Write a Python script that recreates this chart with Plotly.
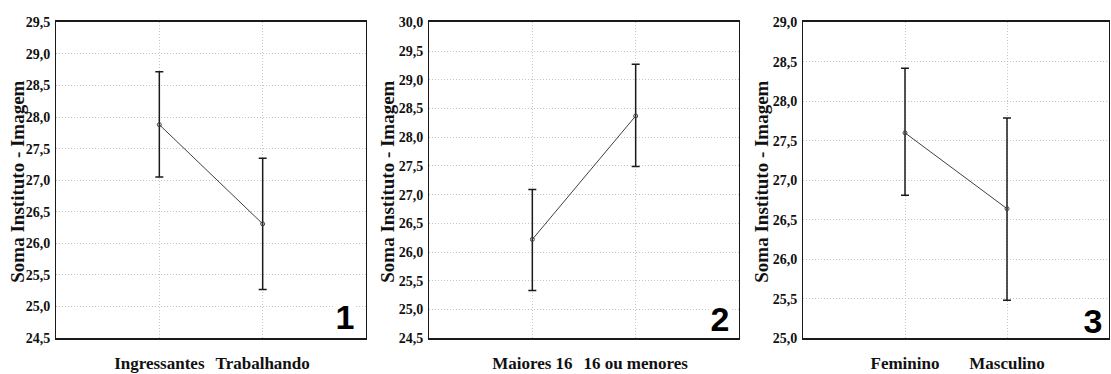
import plotly.graph_objects as go

# ---- data ----
cats1 = ["Ingressantes", "Trabalhando"]
mean1 = [27.88, 26.31]
upper1 = [28.72, 27.35]
lower1 = [27.05, 25.27]

cats2 = ["Maiores 16", "16 ou menores"]
mean2 = [26.22, 28.37]
upper2 = [27.09, 29.27]
lower2 = [25.33, 27.49]

cats3 = ["Feminino", "Masculino"]
mean3 = [27.60, 26.64]
upper3 = [28.42, 27.79]
lower3 = [26.81, 25.48]

yranges = [[24.5, 29.5], [24.5, 30.0], [25.0, 29.0]]
panel_labels = ["1", "2", "3"]
ytitle = "Soma Instituto - Imagem"

W, H = 1111, 374
# panel pixel boxes (left, right)
xboxes = [(56, 366), (429, 739), (803, 1109)]
top_px, bottom_px = 16, 345
ytitle_x = [18, 388, 762]
num_pos = [(345, 323), (720, 325), (1093, 327)]

fig = go.Figure()
series = [(cats1, mean1, upper1, lower1), (cats2, mean2, upper2, lower2), (cats3, mean3, upper3, lower3)]

serif = "Liberation Serif"
annotations = []
for i, (cats, m, up, lo) in enumerate(series):
    n = i + 1
    sfx = "" if n == 1 else str(n)
    xa, ya = "x" + sfx, "y" + sfx
    fig.add_trace(go.Scatter(
        x=cats, y=m, xaxis=xa, yaxis=ya, mode="lines+markers",
        line=dict(color="#404040", width=1),
        marker=dict(symbol="circle-open", size=4, color="#404040", line=dict(width=1)),
        error_y=dict(type="data", symmetric=False,
                     array=[u - v for u, v in zip(up, m)],
                     arrayminus=[v - l for v, l in zip(m, lo)],
                     color="#1a1a1a", thickness=1.5, width=4),
        showlegend=False, hoverinfo="skip"))
    l, r = xboxes[i]
    common = dict(showgrid=True, gridcolor="#c4c4c4", griddash="1px,2px", gridwidth=1,
                  zeroline=False, showline=True, mirror=True, linecolor="#1a1a1a")
    fig.layout["xaxis" + sfx] = dict(
        domain=[l / W, r / W], anchor=ya, type="category",
        range=[-1, 2], linewidth=1.5, ticks="", ticklabelstandoff=9,
        tickfont=dict(family=serif, size=17, color="#111", weight="bold"), **common)
    fig.layout["yaxis" + sfx] = dict(
        domain=[1 - bottom_px / H, 1 - top_px / H], anchor=xa,
        range=yranges[i], dtick=0.5, tick0=0, tickformat=".1f", ticks="",
        linewidth=1, ticklabelstandoff=2,
        tickfont=dict(family=serif, size=14, color="#111", weight="bold"), **common)
    annotations.append(dict(
        xref="paper", yref="paper", x=ytitle_x[i] / W, y=1 - 182 / H,
        text=ytitle, textangle=-90, showarrow=False,
        font=dict(family=serif, size=19, color="#111", weight="bold"),
        xanchor="center", yanchor="middle"))
    nx, ny = num_pos[i]
    annotations.append(dict(
        xref="paper", yref="paper", x=nx / W, y=1 - ny / H,
        text=panel_labels[i], showarrow=False, bgcolor="white", borderpad=0,
        width=20, height=30,
        font=dict(family="Liberation Sans", size=34, color="black", weight="bold"),
        xanchor="center", yanchor="middle"))

fig.update_yaxes(tickfont_family=serif)
fig.update_layout(
    width=W, height=H, margin=dict(l=0, r=0, t=0, b=0),
    paper_bgcolor="white", plot_bgcolor="white",
    separators=",.", annotations=annotations)

fig.write_html("out.html")
